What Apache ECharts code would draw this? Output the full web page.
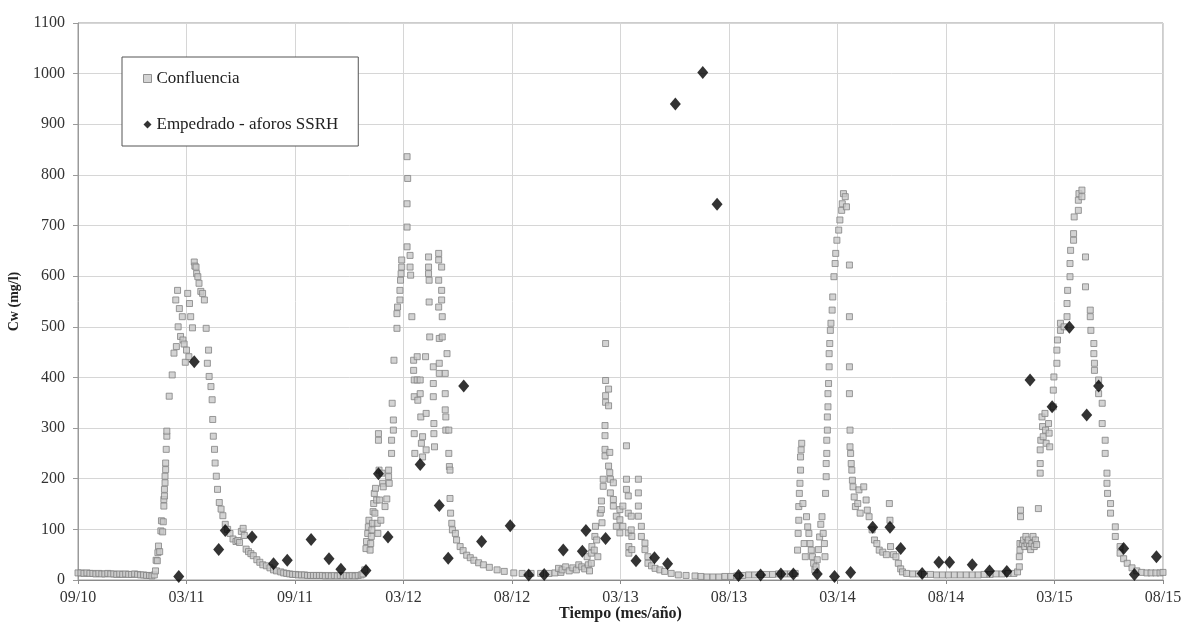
<!DOCTYPE html>
<html>
<head>
<meta charset="utf-8">
<script src="https://cdn.jsdelivr.net/npm/echarts@6/dist/echarts.min.js"></script>
<style>
  html, body { margin: 0; padding: 0; background: #fff; }
  #chart { width: 1185px; height: 624px; }
</style>
</head>
<body>
<div id="chart"></div>
<script>
// Time axis: days counted from the first tick; one tick every 182 days.
const tickDays = 182;
const xLabels = ['09/10', '03/11', '09/11', '03/12', '08/12', '03/13', '08/13', '03/14', '08/14', '03/15', '08/15'];
const yTicks = [0, 100, 200, 300, 400, 500, 600, 700, 800, 900, 1000, 1100];

// Confluencia: [day, Cw mg/l]
const confluencia = [
  [0,14],[5,14],[10,13],[15,14],[20,13],[25,13],[30,12],[35,13],[40,12],[45,12],[50,13],[55,12],[60,12],[65,11],[70,12],[75,11],[80,12],[85,11],[90,11],[95,12],[100,11],[105,10],[110,10],[115,9],[120,9],[124,8],[128,10],
  [130,18],[131,39],[133,38],[134,54],[135,67],[137,56],[139,97],[140,117],[142,95],[143,115],[144,146],[144,159],[145,166],[145,179],[146,192],[146,205],[147,218],[147,231],[148,258],[149,284],[149,294],[153,363],[158,405],[161,448],[164,553],[165,461],[167,572],[168,500],[170,536],[172,481],[175,520],[176,474],[178,466],[180,430],[182,454],[184,566],[186,441],[187,546],[189,520],[192,498],[195,628],[196,620],[198,618],[199,605],[201,599],[203,586],[206,570],[209,566],[212,553],[215,497],[217,428],[219,454],[220,402],[223,382],[225,356],[226,317],[227,284],[229,258],[230,231],[232,205],[234,179],[237,153],[240,140],[243,127],[247,110],[251,100],[255,92],[260,81],[265,76],[268,78],[271,74],[274,96],[277,102],[279,88],[282,61],[286,56],[290,52],[294,48],[300,40],[305,35],[310,30],[316,28],[322,24],[328,20],[333,18],[340,16],[345,14],[350,13],
  [355,12],[360,11],[365,11],[370,10],[375,10],[380,10],[385,9],[390,9],[395,9],[400,9],[405,9],[410,9],[415,8],[420,9],[425,8],[430,9],[435,8],[440,9],[445,8],[450,9],[455,8],[460,9],[465,8],[470,9],[475,10],[478,12],
  [481,20],[483,62],[484,76],[486,92],[487,105],[488,118],[490,59],[491,72],[492,86],[493,99],[494,112],[495,135],[496,151],[497,171],[498,132],[499,181],[501,158],[502,112],[503,92],[504,289],[504,276],[505,217],[506,158],[508,118],[510,211],[511,191],[512,184],[515,145],[518,160],[521,217],[521,204],[522,191],[526,276],[526,250],[527,349],[529,316],[529,296],[530,434],[535,497],[535,526],[536,539],[540,553],[540,572],[541,592],[542,605],[543,618],[543,632],[552,658],[552,697],[552,743],[553,793],[552,836],[557,641],[557,618],[558,602],[560,520],[563,434],[563,414],[564,395],[564,362],[564,289],[565,250],[569,441],[569,395],[570,355],[574,395],[574,368],[575,322],[576,270],[578,283],[578,243],[583,441],[584,329],[584,257],[588,638],[588,618],[588,605],[589,592],[589,549],[590,480],[596,421],[596,388],[596,362],[597,309],[597,289],[598,263],[605,645],[605,632],[605,592],[605,539],[606,477],[606,428],[606,408],[610,618],[610,572],[610,553],[611,520],[611,480],[616,408],[616,368],[616,336],[617,322],[617,296],[619,447],[622,296],[622,250],[623,224],[624,217],[624,161],[625,132],[627,112],[628,99],[633,92],[635,79],[641,66],[646,58],[652,49],[658,44],[664,39],[672,34],[680,30],[690,25],[703,20],[715,17],[731,14],[745,13],[760,13],[776,13],[790,13],[800,14],[810,15],
  [806,23],[812,20],[818,26],[824,18],[830,24],[836,20],[840,30],[845,26],[850,22],[854,46],[856,30],[858,18],
  [861,53],[861,33],[862,66],[866,59],[867,86],[868,106],[870,79],[872,46],[876,132],[878,156],[878,139],[879,113],[881,199],[881,185],[884,245],[884,258],[884,285],[884,305],[885,351],[885,364],[885,394],[885,467],[890,344],[890,377],[890,225],[892,252],[892,212],[893,199],[893,172],[898,192],[898,159],[898,146],[903,126],[903,106],[909,139],[909,119],[909,93],[914,146],[914,106],[920,265],[920,199],[920,179],[923,166],[923,132],[923,93],[924,66],[924,53],[928,126],[928,99],[929,86],[929,60],[940,199],[940,172],[940,146],[940,126],[945,106],[945,86],[951,73],[951,60],[956,46],[956,33],[962,28],[968,23],[976,20],[984,17],[995,13],[1007,10],[1020,9],[1035,8],
  [1045,7],[1055,6],[1065,6],[1075,6],[1085,7],[1095,7],[1105,8],[1115,9],[1125,10],[1135,10],[1145,11],[1155,11],[1165,11],[1175,12],[1185,12],[1195,12],[1203,13],
  [1207,59],[1208,92],[1209,118],[1209,145],[1210,171],[1211,191],[1212,217],[1212,243],[1213,257],[1214,270],[1216,151],[1218,72],[1220,46],
  [1222,125],[1224,105],[1226,92],[1228,72],[1230,59],[1232,46],[1234,33],[1236,20],[1238,26],[1240,40],[1242,60],[1244,85],[1246,110],[1248,125],[1250,92],[1252,72],[1253,46],
  [1254,171],[1255,204],[1255,230],[1256,250],[1256,276],[1257,296],[1257,322],[1258,342],[1258,368],[1259,388],[1260,421],[1260,447],[1261,467],[1262,493],[1263,507],[1265,533],[1266,559],[1268,599],[1270,625],[1271,645],[1273,671],[1276,691],[1278,711],[1281,730],[1282,743],[1284,763],[1287,757],[1289,737],
  [1294,622],[1294,520],[1294,421],[1294,368],[1295,296],[1295,263],[1296,250],[1297,230],[1298,217],[1299,197],[1300,184],[1302,164],[1304,145],[1308,151],[1310,178],[1312,132],[1318,184],[1322,158],[1324,138],[1327,125],[1332,99],[1336,79],[1340,72],[1344,59],[1350,55],[1356,50],[1361,151],[1362,118],[1363,66],[1368,50],[1372,46],[1376,33],[1380,22],[1383,16],[1390,13],[1400,12],
  [1410,12],[1420,11],[1430,11],[1440,10],[1450,10],[1460,10],[1470,10],[1480,10],[1490,10],[1500,10],[1510,10],[1520,11],[1530,11],[1540,12],[1550,12],[1560,13],[1570,13],[1576,16],
  [1579,26],[1579,46],[1580,59],[1580,72],[1581,125],[1581,138],[1584,72],[1586,79],[1588,66],[1590,86],[1592,72],[1594,79],[1596,66],[1598,60],[1600,72],[1602,86],[1604,66],[1606,79],[1608,70],[1611,141],[1614,211],[1614,230],[1614,257],[1615,276],[1617,322],[1618,303],[1619,283],[1622,329],[1623,296],[1624,270],[1628,309],[1629,290],[1630,263],[1636,342],[1636,375],[1637,401],[1642,428],[1642,454],[1643,474],[1648,493],[1648,507],[1654,500],[1659,520],[1659,546],[1660,572],[1664,599],[1664,625],[1665,651],[1670,671],[1670,684],[1671,717],[1678,730],[1678,750],[1679,763],[1684,770],[1684,757],[1690,638],[1690,579],[1698,533],[1698,520],[1699,493],[1704,467],[1704,447],[1705,428],[1705,414],[1712,395],[1712,368],[1718,349],[1718,309],[1723,276],[1723,250],[1726,211],[1726,191],[1727,171],[1732,151],[1732,132],[1740,105],[1740,86],[1748,66],[1748,53],[1754,42],[1760,33],[1768,24],[1776,18],[1784,15],[1793,14],[1800,14],[1808,14],[1815,14],[1820,15]
];

// Empedrado - aforos SSRH: [day, Cw mg/l]
const empedrado = [
  [169,7],[195,431],[236,60],[247,98],[292,85],[328,32],[351,39],[391,80],[421,42],[441,21],[483,19],
  [504,210],[520,85],[574,228],[606,147],[621,43],[647,383],[677,76],[725,107],[756,10],[782,11],
  [814,59],[846,57],[852,98],[885,82],[936,38],[967,44],[989,32],[1002,940],[1048,1002],[1072,742],
  [1108,9],[1145,10],[1179,12],[1200,12],[1240,12],[1269,7],[1296,15],[1333,104],[1362,104],[1380,62],
  [1416,13],[1444,35],[1462,35],[1500,30],[1529,18],[1558,17],[1597,395],[1634,342],[1663,499],
  [1692,326],[1712,383],[1754,62],[1772,11],[1809,46]
];

const serif = '"Liberation Serif", "DejaVu Serif", serif';
const chart = echarts.init(document.getElementById('chart'), null, { renderer: 'canvas' });

chart.setOption({
  animation: false,
  backgroundColor: '#ffffff',
  textStyle: { fontFamily: serif },
  grid: {
    left: 78, right: 22, top: 23, bottom: 44,
    containLabel: false, outerBoundsMode: 'none',
    show: true, borderColor: '#9a9a9a', borderWidth: 1, backgroundColor: 'transparent'
  },
  legend: {
    left: 122, top: 57,
    orient: 'vertical',
    backgroundColor: '#ffffff',
    borderColor: '#555555', borderWidth: 1,
    padding: [13, 20, 13, 21],
    itemGap: 29,
    itemWidth: 8, itemHeight: 8,
    textStyle: { fontFamily: serif, fontSize: 17, color: '#222' },
    data: [
      { name: 'Confluencia', icon: 'rect', itemStyle: { color: '#c9c9c9', borderColor: '#7a7a7a', borderWidth: 1 } },
      { name: 'Empedrado - aforos SSRH', icon: 'diamond', itemStyle: { color: '#000' } }
    ]
  },
  xAxis: {
    type: 'value',
    min: 0, max: tickDays * (xLabels.length - 1), interval: tickDays,
    name: 'Tiempo (mes/año)',
    nameLocation: 'middle', nameGap: 26, nameMoveOverlap: false,
    nameTextStyle: { fontFamily: serif, fontSize: 16, fontWeight: 'bold', color: '#222', verticalAlign: 'top' },
    axisLine: { show: true, lineStyle: { color: '#8a8a8a', width: 1 } },
    axisTick: { show: true, length: 4, lineStyle: { color: '#8a8a8a' } },
    axisLabel: {
      fontFamily: serif, fontSize: 16, color: '#333', margin: 10,
      formatter: v => xLabels[Math.round(v / tickDays)] || ''
    },
    splitLine: { show: true, lineStyle: { color: '#d6d6d6', width: 1 } }
  },
  yAxis: {
    type: 'value',
    min: yTicks[0], max: yTicks[yTicks.length - 1], interval: yTicks[1] - yTicks[0],
    name: 'Cw (mg/l)',
    nameLocation: 'middle', nameGap: 57, nameRotate: 90, nameMoveOverlap: false,
    nameTextStyle: { fontFamily: serif, fontSize: 14, fontWeight: 'bold', color: '#222' },
    axisLine: { show: true, lineStyle: { color: '#9a9a9a', width: 1 } },
    axisTick: { show: true, length: 5, lineStyle: { color: '#9a9a9a' } },
    axisLabel: { fontFamily: serif, fontSize: 16, color: '#333', margin: 13, formatter: v => String(v) },
    splitLine: { show: true, lineStyle: { color: '#d6d6d6', width: 1 } }
  },
  series: [
    {
      name: 'Confluencia',
      type: 'scatter',
      symbol: 'rect',
      symbolSize: 6,
      itemStyle: { color: '#c8c8c8', borderColor: '#828282', borderWidth: 1 },
      data: confluencia,
      z: 2
    },
    {
      name: 'Empedrado - aforos SSRH',
      type: 'scatter',
      symbol: 'diamond',
      symbolSize: [11, 13],
      itemStyle: { color: '#000000' },
      data: empedrado,
      z: 3
    }
  ]
});
</script>
</body>
</html>
